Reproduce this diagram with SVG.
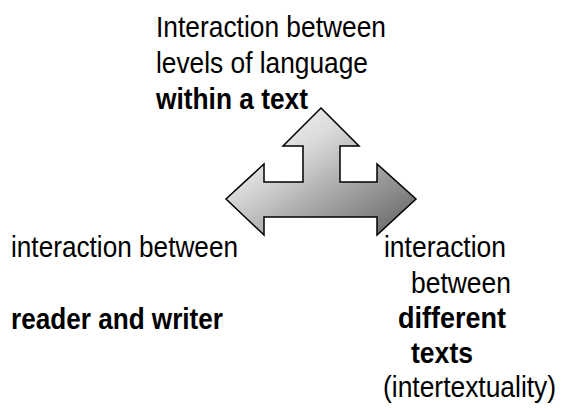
<svg xmlns="http://www.w3.org/2000/svg" width="563" height="408" viewBox="0 0 563 408">
  <style>
    text { font-family: "Liberation Sans Narrow", "Liberation Sans", Arial, sans-serif; font-size: 30px; fill: #000; }
    .b { font-weight: bold; }
    .arrow { stroke: #000; stroke-width: 1.5; stroke-linejoin: miter; fill: url(#g); }
  </style>
  <defs>
    <linearGradient id="g" x1="0" y1="0" x2="1" y2="1">
      <stop offset="0" stop-color="#ffffff"/>
      <stop offset="0.35" stop-color="#dcdcdc"/>
      <stop offset="1" stop-color="#5e5e5e"/>
    </linearGradient>
  </defs>
  <g id="connectors">
    <polygon class="arrow" points="321,108 359,146 340,146 340,182 377,182 377,164 416,199 377,235 377,217 264,217 264,235 226,199 264,164 264,182 303,182 303,146 283,146"/>
  </g>
  <g id="node-top">
    <text x="156" y="37" textLength="230" lengthAdjust="spacingAndGlyphs">Interaction between</text>
    <text x="156" y="73" textLength="212" lengthAdjust="spacingAndGlyphs">levels of language</text>
    <text class="b" x="156" y="109" textLength="152" lengthAdjust="spacingAndGlyphs">within a text</text>
  </g>
  <g id="node-left">
    <text x="11" y="257" textLength="227" lengthAdjust="spacingAndGlyphs">interaction between</text>
    <text class="b" x="11" y="329" textLength="212" lengthAdjust="spacingAndGlyphs">reader and writer</text>
  </g>
  <g id="node-right">
    <text x="384" y="257" textLength="122" lengthAdjust="spacingAndGlyphs">interaction</text>
    <text x="411" y="293" textLength="100" lengthAdjust="spacingAndGlyphs">between</text>
    <text class="b" x="398" y="328" textLength="108" lengthAdjust="spacingAndGlyphs">different</text>
    <text class="b" x="411" y="363" textLength="62" lengthAdjust="spacingAndGlyphs">texts</text>
    <text transform="translate(383,397) scale(0.88,1)" x="0" y="0">(intertextuality)</text>
  </g>
</svg>
